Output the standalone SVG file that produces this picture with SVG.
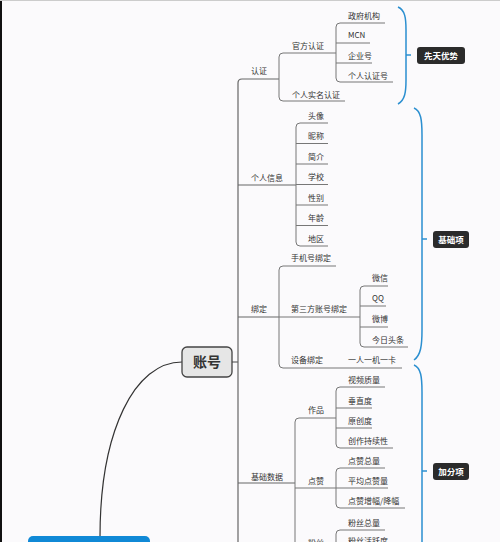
<svg xmlns="http://www.w3.org/2000/svg" width="500" height="542" viewBox="0 0 500 542">
<style>
.t{font-family:"Noto Sans CJK SC","Noto Sans",sans-serif;font-size:8px;fill:#333}
.ln{fill:none;stroke:#777;stroke-width:1}
.tr{fill:none;stroke:#666;stroke-width:1.2}
.br{fill:none;stroke:#2b8fd0;stroke-width:1.5}
.tag{fill:#2b2b2b}
.tagt{font-family:"Noto Sans CJK SC","Noto Sans",sans-serif;font-size:8.5px;font-weight:bold;fill:#fff;text-anchor:middle}
</style>
<rect x="0" y="0" width="500" height="542" fill="#fbfafc"/>
<line x1="1" y1="0" x2="1" y2="542" stroke="#111" stroke-width="2"/>
<line x1="0" y1="0.5" x2="500" y2="0.5" stroke="#ccc" stroke-width="1"/>

<g id="connectors">
  <!-- root to 账号 -->
  <path d="M100,537 C100,430 135,362 182,362" fill="none" stroke="#333" stroke-width="1.2"/>
  <!-- trunk -->
  <path class="tr" d="M232,362 L238,362"/>
  <path class="tr" d="M279,79 L242,79 Q238,79 238,83 L238,545"/>
  <path class="tr" d="M238,185 L296,185"/>
  <path class="tr" d="M238,317 L279,317"/>
  <path class="tr" d="M238,483 L295,483"/>
  <!-- 认证 level 2 -->
  <path class="ln" d="M336,53 L283,53 Q279,53 279,57 L279,97 Q279,101 283,101 L345,101"/>
  <!-- 官方认证 children -->
  <path class="ln" d="M385,23 L340,23 Q336,23 336,27 L336,78 Q336,82 340,82 L393,82"/>
  <path class="ln" d="M336,43 L370,43"/>
  <path class="ln" d="M336,63 L372,63"/>
  <!-- 个人信息 children -->
  <path class="ln" d="M328,123 L300,123 Q296,123 296,127 L296,242 Q296,246 300,246 L328,246"/>
  <path class="ln" d="M296,143.5 L328,143.5"/>
  <path class="ln" d="M296,164 L328,164"/>
  <path class="ln" d="M296,184.5 L328,184.5"/>
  <path class="ln" d="M296,205 L328,205"/>
  <path class="ln" d="M296,225.5 L328,225.5"/>
  <!-- 绑定 children -->
  <path class="ln" d="M336,266 L283,266 Q279,266 279,270 L279,364 Q279,368 283,368 L402,368"/>
  <path class="ln" d="M279,317 L360,317"/>
  <!-- 第三方账号绑定 children -->
  <path class="ln" d="M388,286 L364,286 Q360,286 360,290 L360,343 Q360,347 364,347 L408,347"/>
  <path class="ln" d="M360,306 L386,306"/>
  <path class="ln" d="M360,327 L388,327"/>
  <!-- 基础数据 children -->
  <path class="ln" d="M336,418 L299,418 Q295,418 295,422 L295,545"/>
  <path class="ln" d="M295,488 L336,488"/>
  <!-- 作品 children -->
  <path class="ln" d="M385,387 L340,387 Q336,387 336,391 L336,444 Q336,448 340,448 L393,448"/>
  <path class="ln" d="M336,408 L372,408"/>
  <path class="ln" d="M336,428 L372,428"/>
  <!-- 点赞 children -->
  <path class="ln" d="M385,468 L340,468 Q336,468 336,472 L336,504 Q336,508 340,508 L405,508"/>
  <path class="ln" d="M336,488 L388,488"/>
  <!-- 粉丝 children -->
  <path class="ln" d="M385,530 L340,530 Q336,530 336,534 L336,545"/>
  <!-- brackets -->
  <path class="br" d="M398,7 C405,10 406,18 406,30 L406,80 C406,92 405,100 398,104"/>
  <path class="br" d="M406,55 L411,55"/>
  <path class="br" d="M414,108 C421,111 422,120 422,135 L422,330 C422,345 421,355 414,360"/>
  <path class="br" d="M422,239 L427,239"/>
  <path class="br" d="M414,365 C421,368 422,377 422,392 L422,560"/>
  <path class="br" d="M422,471 L427,471"/>
</g>

<g id="root">
  <rect x="28" y="536" width="122" height="20" rx="5" fill="#1089d6"/>
</g>
<g id="zhanghao">
  <rect x="182" y="347" width="50" height="30" rx="5" fill="#e6e6e6" stroke="#444" stroke-width="1.3"/>
  <text x="207" y="367" font-family="&quot;Noto Sans CJK SC&quot;,sans-serif" font-size="14" font-weight="bold" fill="#333" text-anchor="middle">账号</text>
</g>

<g id="renzheng"><text class="t" x="251" y="74">认证</text></g>
<g id="guanfang"><text class="t" x="292" y="48.5">官方认证</text></g>
<g id="zhengfu"><text class="t" x="348" y="18.5">政府机构</text></g>
<g id="mcn"><text class="t" x="348" y="37.5">MCN</text></g>
<g id="qiye"><text class="t" x="348" y="58.5">企业号</text></g>
<g id="gerenrz"><text class="t" x="348" y="78.5">个人认证号</text></g>
<g id="shiming"><text class="t" x="292" y="97.5">个人实名认证</text></g>

<g id="gerenxinxi"><text class="t" x="251" y="181">个人信息</text></g>
<g id="touxiang"><text class="t" x="308" y="118.5">头像</text></g>
<g id="nicheng"><text class="t" x="308" y="139">昵称</text></g>
<g id="jianjie"><text class="t" x="308" y="159.5">简介</text></g>
<g id="xuexiao"><text class="t" x="308" y="180">学校</text></g>
<g id="xingbie"><text class="t" x="308" y="200.5">性别</text></g>
<g id="nianling"><text class="t" x="308" y="221">年龄</text></g>
<g id="diqu"><text class="t" x="308" y="241.5">地区</text></g>

<g id="bangding"><text class="t" x="251" y="312">绑定</text></g>
<g id="shouji"><text class="t" x="291" y="260.5">手机号绑定</text></g>
<g id="disanfang"><text class="t" x="291" y="311.5">第三方账号绑定</text></g>
<g id="weixin"><text class="t" x="372" y="280.5">微信</text></g>
<g id="qq"><text class="t" x="372" y="301">QQ</text></g>
<g id="weibo"><text class="t" x="372" y="322">微博</text></g>
<g id="toutiao"><text class="t" x="372" y="342.5">今日头条</text></g>
<g id="shebei"><text class="t" x="291" y="362.5">设备绑定</text></g>
<g id="yiren"><text class="t" x="348" y="362.5">一人一机一卡</text></g>

<g id="jichushuju"><text class="t" x="251" y="479.5">基础数据</text></g>
<g id="zuopin"><text class="t" x="308" y="413">作品</text></g>
<g id="shipin"><text class="t" x="348" y="383">视频质量</text></g>
<g id="chuizhi"><text class="t" x="348" y="403.5">垂直度</text></g>
<g id="yuanchuang"><text class="t" x="348" y="423.5">原创度</text></g>
<g id="chixu"><text class="t" x="348" y="443.5">创作持续性</text></g>
<g id="dianzan"><text class="t" x="308" y="484">点赞</text></g>
<g id="dzzl"><text class="t" x="348" y="463.5">点赞总量</text></g>
<g id="pjdz"><text class="t" x="348" y="483.5">平均点赞量</text></g>
<g id="dzzf"><text class="t" x="348" y="504">点赞增幅/降幅</text></g>
<g id="fensi"><text class="t" x="308" y="545.5">粉丝</text></g>
<g id="fszl"><text class="t" x="348" y="525.5">粉丝总量</text></g>
<g id="fshy"><text class="t" x="348" y="544">粉丝活跃度</text></g>

<g id="tag1">
  <rect class="tag" x="417" y="47" width="48" height="17" rx="3"/>
  <text class="tagt" x="441" y="58.5">先天优势</text>
</g>
<g id="tag2">
  <rect class="tag" x="433" y="231" width="36" height="17" rx="3"/>
  <text class="tagt" x="451" y="242.5">基础项</text>
</g>
<g id="tag3">
  <rect class="tag" x="433" y="463" width="36" height="17" rx="3"/>
  <text class="tagt" x="451" y="474.5">加分项</text>
</g>
</svg>
